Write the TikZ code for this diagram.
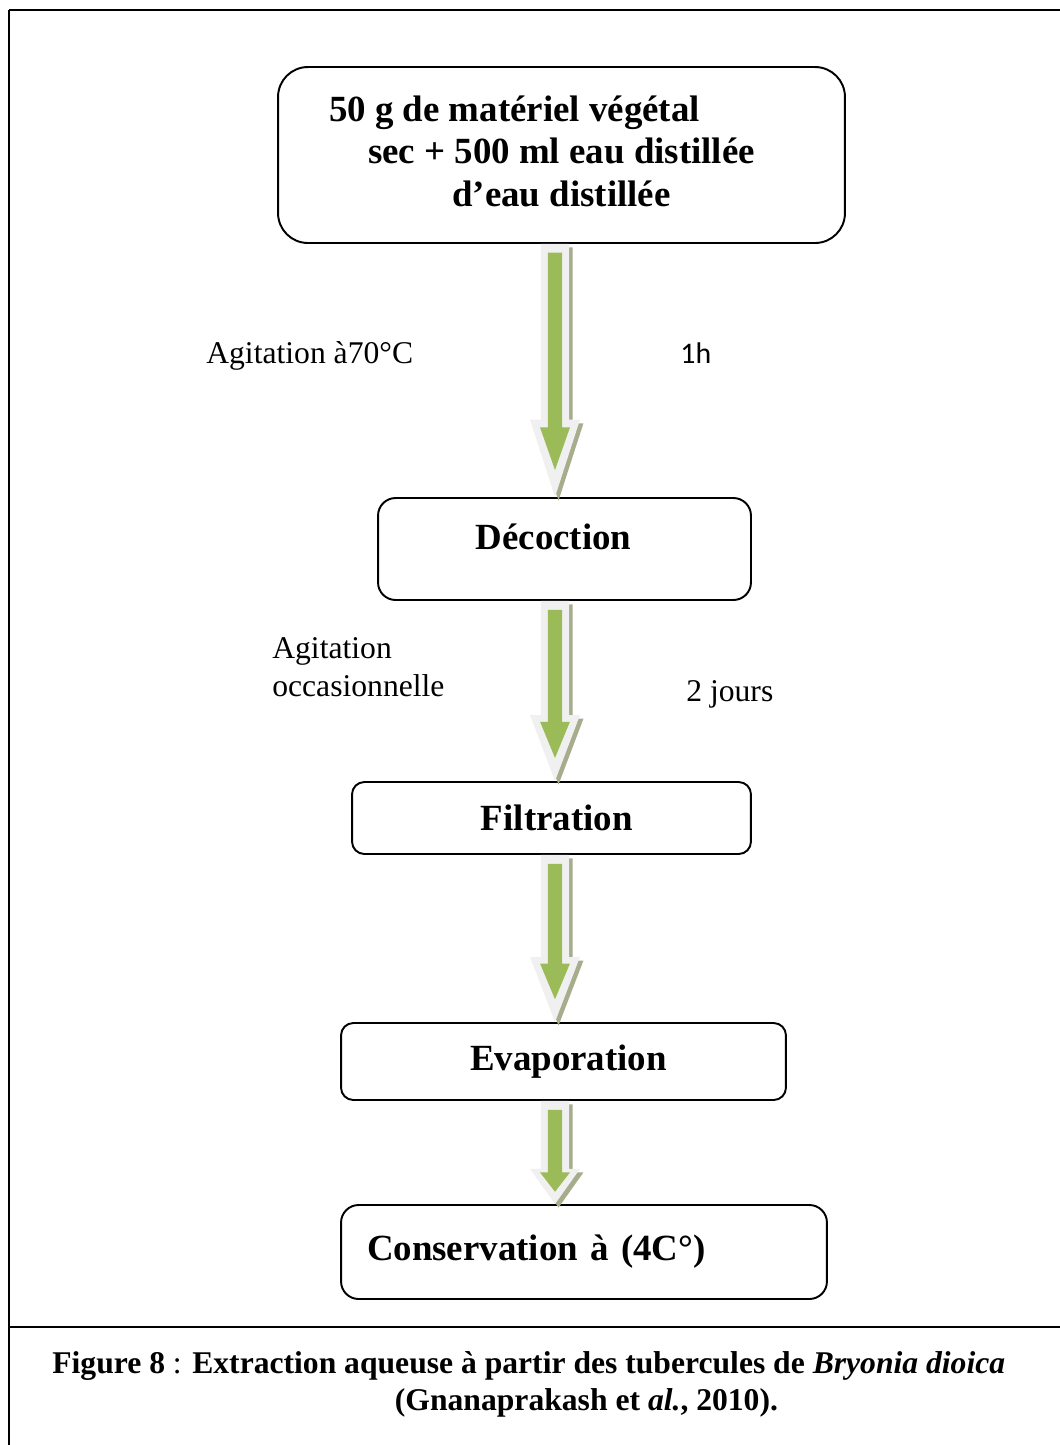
\documentclass[tikz,border=0pt]{standalone}
\usepackage{fontspec}
\setmainfont{Liberation Serif}
\newfontfamily\carlito{Carlito}
\usetikzlibrary{calc}

\definecolor{vertfleche}{RGB}{155,187,89}
\definecolor{fondfleche}{RGB}{240,240,240}
\definecolor{ombrefleche}{RGB}{166,172,140}

\tikzset{
  boite/.style={draw, line width=1.1pt, inner sep=0pt,
    font=\bfseries\fontsize{21}{24.4}\selectfont},
  etiquette/.style={anchor=west, inner sep=0pt, align=left,
    font=\fontsize{18}{21.6}\selectfont},
  legende/.style={anchor=west, inner sep=0pt, align=left,
    font=\bfseries\fontsize{18}{21}\selectfont},
}

% fleche epaisse verte : #1 depart, #2 arrivee, #3 longueur de la pointe
\newcommand{\flechebas}[3]{%
  \fill[ombrefleche] let \p1=(#1), \p2=(#2) in
    (\x1-6pt,\y1-2pt) -- (\x1+10pt,\y1-2pt) -- (\x1+10pt,\y2+#3-2pt)
    -- (\x1+16.2pt,\y2+#3-2pt) -- (\x1+2pt,\y2-2pt)
    -- (\x1-12.2pt,\y2+#3-2pt) -- (\x1-6pt,\y2+#3-2pt) -- cycle;
  \fill[fondfleche] let \p1=(#1), \p2=(#2) in
    (\x1-8pt,\y1) -- (\x1+8pt,\y1) -- (\x1+8pt,\y2+#3)
    -- (\x1+14.2pt,\y2+#3) -- (\x1,\y2)
    -- (\x1-14.2pt,\y2+#3) -- (\x1-8pt,\y2+#3) -- cycle;
  \fill[vertfleche] let \p1=(#1), \p2=(#2) in
    (\x1-4pt,\y1-5pt) -- (\x1+4pt,\y1-5pt) -- (\x1+4pt,\y2+0.9*#3)
    -- (\x1+8.5pt,\y2+0.9*#3) -- (\x1,\y2+0.35*#3)
    -- (\x1-8.5pt,\y2+0.9*#3) -- (\x1-4pt,\y2+0.9*#3) -- cycle;
}

\begin{document}
\begin{tikzpicture}[x=0.02cm,y=-0.02cm]
  \useasboundingbox (0,0) rectangle (1060,1445);

  % cadre
  \draw[line width=1.2pt] (1060,10) -- (9,10);
  \draw[line width=0.8pt] (9,10) -- (9,1445);
  \draw[line width=1.5pt] (9,1327) -- (1060,1327);

  % etapes
  \node[boite, rounded corners=17pt, minimum width=11.34cm, minimum height=3.52cm,
    align=center, text depth=4.5pt]
    (materiel) at (561.5,155) {50 g de matériel végétal\hspace*{53.5pt}\\sec + 500 ml eau distillée\\d’eau distillée};
  \node[boite, rounded corners=10pt, minimum width=7.46cm, minimum height=2.04cm, text depth=13.6pt]
    (decoction) at (564.5,549) {Décoction\hspace*{12.5pt}};
  \node[boite, rounded corners=7pt, minimum width=7.98cm, minimum height=1.44cm]
    (filtration) at (551.5,818) {\hspace*{6pt}Filtration};
  \node[boite, rounded corners=7pt, minimum width=8.9cm, minimum height=1.54cm]
    (evaporation) at (563.5,1061.5) {\hspace*{5.7pt}Evaporation};
  \node[boite, rounded corners=10pt, minimum width=9.72cm, minimum height=1.88cm,
    inner xsep=0.52cm, text width=8.68cm, align=left]
    (conservation) at (584,1252) {Conservation à (4C°)};

  % fleches
  \coordinate (axe) at (555,0);
  \flechebas{axe |- materiel.south}{axe |- decoction.north}{44pt}
  \flechebas{axe |- decoction.south}{axe |- filtration.north}{37.5pt}
  \flechebas{axe |- filtration.south}{axe |- evaporation.north}{37pt}
  \flechebas{axe |- evaporation.south}{axe |- conservation.north}{20pt}

  % conditions
  \node[etiquette] (agitation) at (206,356) {Agitation à70°C};
  \node[etiquette, font=\carlito\fontsize{17}{20}\selectfont] (duree) at (680,353) {1h};
  \node[etiquette] (occasion) at (272,667) {Agitation\\occasionnelle};
  \node[etiquette] (jours) at (686,694) {2 jours};

  % legende
  \node[legende] (titre) at (52,1384.5)
    {Figure 8 {\mdseries :} Extraction aqueuse à partir des tubercules de \textit{Bryonia dioica}\\
     \hspace*{195pt}(Gnanaprakash et \textit{al.}, 2010).};
\end{tikzpicture}
\end{document}
